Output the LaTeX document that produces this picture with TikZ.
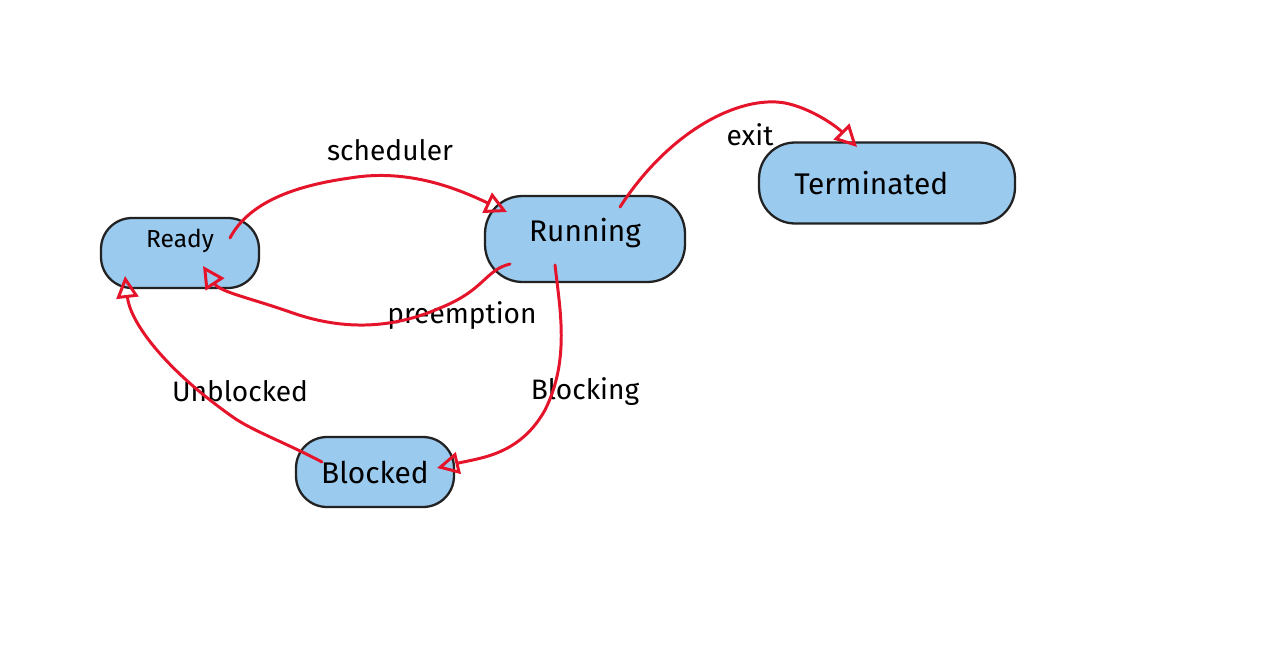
\documentclass[tikz,border=0pt]{standalone}
\usepackage{fontspec}
\setmainfont{Fira Sans}
\usetikzlibrary{arrows.meta,positioning,calc}
\definecolor{ink}{HTML}{222222}
\definecolor{wash}{HTML}{9ACAEE}
\definecolor{pen}{HTML}{E5142A}
\tikzset{state/.style={draw=ink,line width=1.3pt,rounded corners=0.62cm,fill=wash,align=center,font=\fontsize{17}{20}\selectfont,minimum height=1.4cm}, lbl/.style={font=\fontsize{16}{19}\selectfont,inner sep=1pt}, arr/.style={-{Triangle[open,length=4.4mm,width=4.4mm]},line width=1.7pt,draw=pen,line cap=round}}
\begin{document}
\begin{tikzpicture}[x=0.02cm,y=-0.02cm]
\useasboundingbox (0,0) rectangle (1270,652);
\node[state,minimum width=3.16cm,font=\fontsize{14}{17}\selectfont] (rdy) at (180,253) {\raisebox{17pt}{Ready}};
\node[state,minimum width=4cm,minimum height=1.72cm,rounded corners=0.75cm] (run) at (585,239) {\raisebox{10pt}{Running}};
\node[state,minimum width=5.12cm,minimum height=1.62cm,rounded corners=0.72cm] (term) at (887,183) {Terminated\hspace{18pt}};
\node[state,minimum width=3.16cm] (blk) at (375,472) {Blocked};
\node[lbl] (sched) at (390,150) {scheduler};
\node[lbl] (preem) at (462,316) {preemption};
\node[lbl] (ex) at (750,135) {exit};
\node[lbl] (blking) at (585,392) {Blocking};
\node[lbl] (unblk) at (240,391) {Unblocked};
\draw[arr] ($(rdy)+(50,-15)$) .. controls (250,200) and (300,185) .. (350,178) .. controls (410,168) and (460,190) .. ($(run)+(-78,-27)$);
\draw[arr] ($(run)+(-75,25)$) .. controls (485,270) and (485,290) .. (440,308) .. controls (390,330) and (340,330) .. (290,312) .. controls (250,298) and (220,292) .. ($(rdy)+(23,13)$);
\draw[arr] ($(run)+(35,-32)$) .. controls (670,130) and (740,95) .. (785,103) .. controls (810,108) and (835,125) .. ($(term)+(-30,-36)$);
\draw[arr] ($(run)+(-30,26)$) .. controls (560,310) and (570,360) .. (545,410) .. controls (520,455) and (480,458) .. ($(blk)+(62,-4)$);
\draw[arr] ($(blk)+(-53,-10)$) .. controls (280,440) and (250,430) .. (230,415) .. controls (160,365) and (130,320) .. ($(rdy)+(-55,23)$);
\end{tikzpicture}
\end{document}
